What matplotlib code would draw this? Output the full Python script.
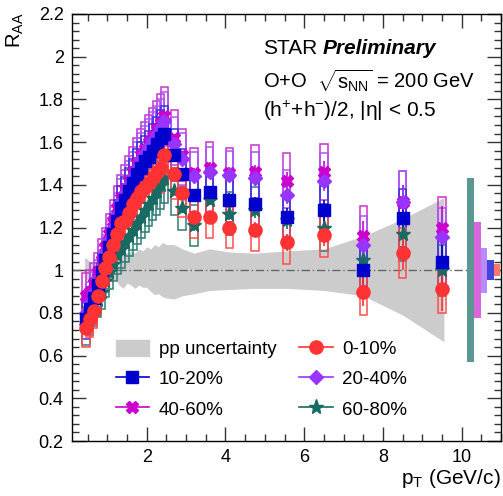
import matplotlib
matplotlib.use("Agg")
import matplotlib.pyplot as plt
from matplotlib.lines import Line2D
from matplotlib.patches import Patch
from matplotlib.ticker import MultipleLocator

plt.rcParams["font.family"] = ["Liberation Sans", "DejaVu Sans"]
plt.rcParams["mathtext.fontset"] = "custom"
plt.rcParams["mathtext.rm"] = "Liberation Sans"
plt.rcParams["mathtext.it"] = "Liberation Sans:italic"
plt.rcParams["mathtext.bf"] = "Liberation Sans:bold"

# pT bin centres (GeV/c)
pt = [0.45, 0.55, 0.65, 0.75, 0.85, 0.95, 1.05, 1.15, 1.25, 1.35, 1.45,
      1.55, 1.65, 1.75, 1.85, 1.95, 2.05, 2.15, 2.25, 2.35, 2.45,
      2.7, 2.9, 3.2, 3.6, 4.1, 4.75, 5.55, 6.5, 7.5, 8.5, 9.5]

raa_0_10 = [0.73, 0.77, 0.81, 0.88, 0.95, 1.01, 1.06, 1.12, 1.17, 1.22, 1.23,
            1.27, 1.31, 1.34, 1.37, 1.39, 1.41, 1.43, 1.46, 1.48, 1.54,
            1.45, 1.36, 1.25, 1.25, 1.20, 1.19, 1.13, 1.165, 0.90, 1.08, 0.91]
raa_10_20 = [0.77, 0.82, 0.87, 0.93, 0.99, 1.05, 1.11, 1.17, 1.23, 1.29, 1.33,
             1.37, 1.41, 1.45, 1.48, 1.51, 1.53, 1.56, 1.59, 1.62, 1.64,
             1.54, 1.45, 1.35, 1.366, 1.33, 1.31, 1.25, 1.28, 1.00, 1.245, 1.04]
raa_20_40 = [0.80, 0.85, 0.90, 0.96, 1.02, 1.08, 1.14, 1.20, 1.26, 1.32, 1.36,
             1.40, 1.44, 1.48, 1.52, 1.55, 1.58, 1.61, 1.64, 1.67, 1.70,
             1.59, 1.52, 1.44, 1.46, 1.445, 1.43, 1.35, 1.42, 1.12, 1.32, 1.155]
raa_40_60 = [0.88, 0.90, 0.94, 0.99, 1.05, 1.11, 1.17, 1.23, 1.29, 1.34, 1.38,
             1.42, 1.46, 1.50, 1.54, 1.57, 1.60, 1.63, 1.66, 1.69, 1.72,
             1.62, 1.54, 1.455, 1.48, 1.455, 1.46, 1.42, 1.46, 1.16, 1.32, 1.20]
raa_60_80 = [0.74, 0.78, 0.82, 0.86, 0.90, 0.95, 0.99, 1.03, 1.07, 1.10, 1.13,
             1.16, 1.19, 1.22, 1.25, 1.28, 1.31, 1.34, 1.37, 1.40, 1.43,
             1.37, 1.29, 1.21, 1.33, 1.265, 1.28, 1.235, 1.20, 1.05, 1.17, 1.00]

# statistical and relative systematic uncertainties per bin
stat = [0.01, 0.01, 0.01, 0.01, 0.01, 0.01, 0.01, 0.01, 0.01, 0.01, 0.01,
        0.01, 0.01, 0.01, 0.01, 0.01, 0.01, 0.012, 0.012, 0.014, 0.015,
        0.02, 0.02, 0.025, 0.025, 0.03, 0.035, 0.04, 0.05, 0.07, 0.08, 0.10]
sys_rel = [0.12, 0.11, 0.10, 0.09, 0.09, 0.08, 0.08, 0.08, 0.08, 0.08, 0.08,
           0.08, 0.08, 0.08, 0.08, 0.08, 0.08, 0.08, 0.08, 0.08, 0.08,
           0.08, 0.08, 0.08, 0.08, 0.08, 0.085, 0.09, 0.09, 0.12, 0.11, 0.12]

# pp reference uncertainty band
band_pt = [0.42, 0.5, 0.6, 0.7, 0.8, 0.9, 1.0, 1.1, 1.2, 1.3, 1.4, 1.5, 1.6,
           1.7, 1.8, 1.9, 2.0, 2.1, 2.2, 2.3, 2.4, 2.5, 2.7, 2.9, 3.2, 3.6,
           4.1, 4.75, 5.55, 6.5, 7.5, 8.5, 9.55]
band_hi = [1.06, 1.05, 1.03, 1.06, 1.04, 1.07, 1.05, 1.07, 1.08, 1.07, 1.09, 1.08, 1.09,
           1.08, 1.10, 1.09, 1.11, 1.10, 1.12, 1.11, 1.13, 1.12, 1.12, 1.10, 1.08, 1.10,
           1.085, 1.08, 1.09, 1.10, 1.16, 1.24, 1.34]
band_lo = [0.95, 0.96, 0.94, 0.96, 0.95, 0.93, 0.95, 0.96, 0.955, 0.93, 0.915, 0.94, 0.93,
           0.915, 0.93, 0.92, 0.92, 0.90, 0.885, 0.89, 0.875, 0.87, 0.865, 0.88, 0.89, 0.905,
           0.91, 0.915, 0.915, 0.905, 0.88, 0.79, 0.665]

# global (normalisation) uncertainties drawn at right edge
global_unc = {"60-80%": 0.43, "40-60%": 0.225, "20-40%": 0.105,
              "10-20%": 0.048, "0-10%": 0.027}

series = [
    ("60-80%", raa_60_80, "*", 11, "#176b63", "#2e7d76"),
    ("40-60%", raa_40_60, "X", 9, "#cc00cc", "#cc33cc"),
    ("20-40%", raa_20_40, "D", 7, "#9933ff", "#aa55ff"),
    ("10-20%", raa_10_20, "s", 8.5, "#0000cc", "#3333dd"),
    ("0-10%", raa_0_10, "o", 9.5, "#ff3333", "#ff4d4d"),
]
global_colors = {"60-80%": "#5b9792", "40-60%": "#d966dd", "20-40%": "#b88cff",
                 "10-20%": "#4444dd", "0-10%": "#ff7766"}
global_x = {"60-80%": 10.225, "40-60%": 10.40, "20-40%": 10.57,
            "10-20%": 10.73, "0-10%": 10.9}


fig = plt.figure(figsize=(5.03, 4.96), dpi=100)
ax = fig.add_axes([72 / 503, 55 / 496, 429 / 503, 427 / 496])

ax.fill_between(band_pt, band_lo, band_hi, color="#cccccc", lw=0, zorder=1)
ax.axhline(1, color="#666666", lw=1.0, ls=(0, (6, 2, 1, 2)), zorder=2)

for name, vals, mk, ms, col, boxcol in series:
    sys = [v * s for v, s in zip(vals, sys_rel)]
    ax.bar(pt, [2 * s for s in sys], bottom=[v - s for v, s in zip(vals, sys)],
           width=0.19, fill=False, edgecolor=boxcol, lw=1.1, zorder=3)
    ax.errorbar(pt, vals, yerr=stat, fmt=mk, ms=ms, color=col, mec=col,
                ecolor=col, elinewidth=1.2, capsize=0, zorder=4)

for name, unc in global_unc.items():
    ax.bar(global_x[name], 2 * unc, bottom=1 - unc, width=0.17,
           color=global_colors[name], lw=0, zorder=3)

ax.set_xlim(0.1, 11.0)
ax.set_ylim(0.2, 2.2)
ax.xaxis.set_minor_locator(MultipleLocator(0.5))
ax.yaxis.set_minor_locator(MultipleLocator(0.04))
ax.set_xticks([2, 4, 6, 8, 10])
ax.set_yticks([0.2, 0.4, 0.6, 0.8, 1.0, 1.2, 1.4, 1.6, 1.8, 2.0, 2.2])
ax.set_yticklabels(["0.2", "0.4", "0.6", "0.8", "1", "1.2", "1.4", "1.6", "1.8", "2", "2.2"])
ax.tick_params(which="both", direction="in", top=True, right=True,
               labelsize=13, width=1.0, color="#333333")
ax.tick_params(which="major", length=10, pad=6)
ax.tick_params(which="minor", length=5)
for sp in ax.spines.values():
    sp.set_linewidth(1.0)

fig.text(15 / 503, 1 - 12 / 496, r"R$_{\mathrm{AA}}$", rotation=90,
         ha="center", va="top", fontsize=14.5)
fig.text(501 / 503, 1 - 478 / 496, r"p$_{\mathrm{T}}$ (GeV/c)",
         ha="right", va="center", fontsize=15)

# label block
fig.text(263 / 503, 1 - 48 / 496, "STAR", ha="left", va="center", fontsize=15)
fig.text(323 / 503, 1 - 48 / 496, "Preliminary", ha="left", va="center",
         fontsize=15, weight="bold", style="italic")
fig.text(263 / 503, 1 - 81 / 496,
         r"O+O  $\sqrt{\mathrm{s}_{\mathrm{NN}}}$ = 200 GeV",
         ha="left", va="center", fontsize=14.5)
fig.text(263 / 503, 1 - 111 / 496, r"(h$^{+}$+h$^{-}$)/2, |η| < 0.5",
         ha="left", va="center", fontsize=15)

handles = [Patch(facecolor="#cccccc", edgecolor="#cccccc")]
labels = ["pp uncertainty"]
for name in ["10-20%", "40-60%", "0-10%", "20-40%", "60-80%"]:
    _, _, mk, ms, col, _ = [s for s in series if s[0] == name][0]
    handles.append(Line2D([], [], marker=mk, ms=ms, color=col, lw=1.2))
    labels.append(name)
ax.legend(handles, labels, ncol=2, loc="lower left",
          bbox_to_anchor=(0.084, 0.035), frameon=False, fontsize=13.5,
          handlelength=1.8, handleheight=1.0, handletextpad=0.5,
          columnspacing=1.2, labelspacing=0.6, borderaxespad=0)

fig.savefig("out.png", dpi=100)
